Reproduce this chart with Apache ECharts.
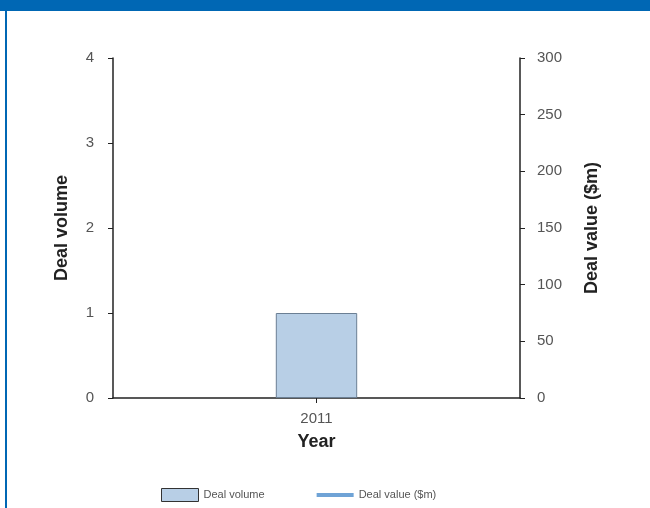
<!DOCTYPE html>
<html>
<head>
<meta charset="utf-8">
<script src="https://cdn.jsdelivr.net/npm/echarts@6/dist/echarts.min.js"></script>
<style>html,body{margin:0;padding:0;background:#fff;}#c{width:650px;height:508px;}</style>
</head>
<body>
<div id="c"></div>
<script>
const categories = ["2011"];
const dealVolume = [1];
const dealValue = [null];
const volumeTicks = { min: 0, max: 4, interval: 1 };
const valueTicks = { min: 0, max: 300, interval: 50 };

const chart = echarts.init(document.getElementById('c'));
const font = '"Liberation Sans", Arial, sans-serif';
chart.setOption({
  animation: false,
  backgroundColor: '#ffffff',
  textStyle: { fontFamily: font },
  graphic: [
    { type: 'rect', shape: { x: 0, y: 0, width: 650, height: 11 }, style: { fill: '#0067b4' } },
    { type: 'rect', shape: { x: 5, y: 0, width: 2, height: 508 }, style: { fill: '#0067b4' } }
  ],
  grid: { left: 113, right: 130, top: 58, bottom: 110 },
  legend: {
    bottom: 1,
    left: 156,
    itemWidth: 37,
    itemHeight: 13,
    itemGap: 50,
    textStyle: { fontSize: 11, color: '#555', fontFamily: font },
    data: [
      { name: 'Deal volume', icon: 'rect', itemStyle: { color: '#b8cfe6', borderColor: '#333', borderWidth: 1 } },
      { name: 'Deal value ($m)', itemStyle: { opacity: 0 }, lineStyle: { color: '#6fa3d6', width: 4, opacity: 1 } }
    ]
  },
  xAxis: {
    type: 'category',
    data: categories,
    name: 'Year',
    nameLocation: 'middle',
    nameGap: 35,
    nameTextStyle: { fontSize: 18, fontWeight: 'bold', color: '#222', fontFamily: font },
    axisLine: { lineStyle: { color: '#222', width: 1.5 } },
    axisTick: { show: true, alignWithLabel: true, interval: 0, length: 5, lineStyle: { color: '#222' } },
    axisLabel: { fontSize: 15, color: '#555', margin: 13 }
  },
  yAxis: [
    {
      type: 'value',
      min: volumeTicks.min, max: volumeTicks.max, interval: volumeTicks.interval,
      name: 'Deal volume',
      nameLocation: 'middle',
      nameGap: 42,
      nameRotate: 90,
      nameTextStyle: { fontSize: 18, fontWeight: 'bold', color: '#222', fontFamily: font },
      axisLine: { show: true, lineStyle: { color: '#222', width: 1.5 } },
      axisTick: { show: true, length: 5, lineStyle: { color: '#222' } },
      axisLabel: { fontSize: 15, color: '#555', margin: 19 },
      splitLine: { show: false }
    },
    {
      type: 'value',
      position: 'right',
      min: valueTicks.min, max: valueTicks.max, interval: valueTicks.interval,
      name: 'Deal value ($m)',
      nameLocation: 'middle',
      nameGap: 63,
      nameRotate: 90,
      nameTextStyle: { fontSize: 18, fontWeight: 'bold', color: '#222', fontFamily: font },
      axisLine: { show: true, lineStyle: { color: '#222', width: 1.5 } },
      axisTick: { show: true, length: 5, lineStyle: { color: '#222' } },
      axisLabel: { fontSize: 15, color: '#555', margin: 17 },
      splitLine: { show: false }
    }
  ],
  series: [
    {
      name: 'Deal volume',
      type: 'bar',
      yAxisIndex: 0,
      data: dealVolume,
      barWidth: '20%',
      itemStyle: { color: '#b8cfe6', borderColor: '#6b7f94', borderWidth: 1 }
    },
    {
      name: 'Deal value ($m)',
      type: 'line',
      yAxisIndex: 1,
      data: dealValue,
      symbol: 'none',
      lineStyle: { color: '#6fa3d6', width: 4 },
      itemStyle: { color: '#6fa3d6' }
    }
  ]
});
</script>
</body>
</html>
